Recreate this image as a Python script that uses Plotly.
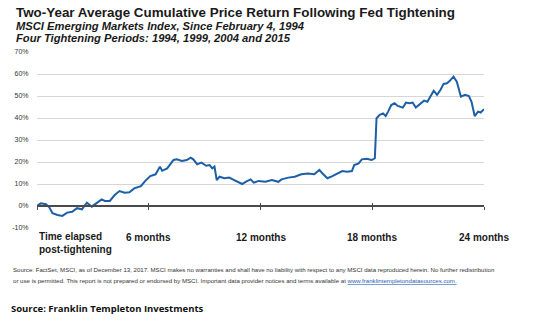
import plotly.graph_objects as go

# Months elapsed after the start of tightening
months = [0.00, 0.20, 0.48, 0.66, 0.83, 1.10, 1.36, 1.62, 1.89, 2.15, 2.41, 2.68, 2.94, 3.21,
          3.47, 3.64, 3.91, 4.17, 4.43, 4.70, 4.96, 5.22, 5.58, 5.79, 6.08, 6.37, 6.60, 6.72,
          6.99, 7.33, 7.51, 7.78, 8.04, 8.25, 8.39, 8.60, 8.83, 9.09, 9.27, 9.41, 9.53, 9.65,
          9.80, 10.06, 10.32, 10.59, 10.85, 11.02, 11.20, 11.47, 11.64, 11.90, 12.26, 12.61,
          12.96, 13.13, 13.49, 13.84, 14.19, 14.54, 14.89, 15.16, 15.33, 15.59, 15.86, 16.12,
          16.39, 16.65, 16.91, 17.03, 17.27, 17.44, 17.70, 17.97, 18.14, 18.23, 18.40, 18.58,
          18.72, 18.85, 19.02, 19.20, 19.37, 19.64, 19.81, 19.99, 20.17, 20.34, 20.60, 20.78,
          20.96, 21.13, 21.30, 21.48, 21.66, 21.83, 22.01, 22.18, 22.36, 22.54, 22.76, 22.98,
          23.19, 23.33, 23.50, 23.68, 23.82, 24.00]
# Average cumulative price return (%)
returns = [0.0, 1.2, 0.8, -0.6, -3.3, -4.1, -4.5, -3.0, -2.6, -1.0, -1.5, 1.5, -0.3, 1.5,
           3.0, 2.3, 2.3, 5.0, 6.8, 6.0, 6.2, 8.0, 9.0, 11.2, 13.6, 14.4, 17.9, 16.0,
           17.1, 20.9, 21.2, 20.5, 20.9, 22.0, 21.2, 19.0, 19.7, 18.3, 18.6, 17.1, 17.9, 11.8,
           13.3, 12.6, 12.9, 11.8, 10.6, 10.0, 11.0, 12.1, 10.6, 11.4, 11.0, 11.8,
           11.0, 12.1, 12.9, 13.3, 14.4, 14.8, 14.4, 16.4, 14.8, 12.6, 13.6, 14.8,
           15.9, 15.6, 15.9, 18.6, 19.4, 21.2, 21.5, 20.9, 21.7, 39.9, 41.4, 42.1,
           40.9, 42.9, 45.9, 46.7, 45.5, 44.7, 47.0, 46.7, 47.0, 44.8, 46.7, 47.9,
           47.4, 49.7, 52.4, 50.5, 52.7, 55.5, 55.8, 57.0, 58.8, 56.5, 49.7, 50.5,
           50.0, 47.4, 40.9, 42.9, 42.5, 44.0]

tick_months = [0, 6, 12, 18, 24]
tick_labels = ["Time elapsed<br>post-tightening", "6 months", "12 months", "18 months", "24 months"]
y_ticks = [-10, 0, 10, 20, 30, 40, 50, 60, 70]
y_labels = ["-10%", "0%", "10%", "20%", "30%", "40%", "50%", "60%", "70%"]

title = "Two-Year Average Cumulative Price Return Following Fed Tightening"
sub1 = "MSCI Emerging Markets Index, Since February 4, 1994"
sub2 = "Four Tightening Periods: 1994, 1999, 2004 and 2015"
foot1 = ("Source: FactSet, MSCI, as of December 13, 2017. MSCI makes no warranties and shall have no "
         "liability with respect to any MSCI data reproduced herein. No further redistribution")
foot2 = ("or use is permitted. This report is not prepared or endorsed by MSCI. Important data provider "
         "notices and terms available at ")
link = "www.franklintempletondatasources.com."
source = "Source: Franklin Templeton Investments"

W, H = 534, 323
ML, MR, MT, MB = 29, 50, 52, 95

fig = go.Figure()
fig.add_trace(go.Scatter(x=months, y=returns, mode="lines",
                         line=dict(color="#1d5fa6", width=2), hoverinfo="skip"))
# invisible trace on x2 to activate crossing ticks
fig.add_trace(go.Scatter(x=[0, 24], y=[0, 0], xaxis="x2", mode="lines",
                         line=dict(color="rgba(0,0,0,0)"), hoverinfo="skip"))

ypos = (0 - (-10)) / 80
fig.update_layout(
    width=W, height=H, margin=dict(l=ML, r=MR, t=MT, b=MB),
    paper_bgcolor="white", plot_bgcolor="white", showlegend=False,
    font=dict(family="Liberation Sans, Arial, sans-serif", color="#1a1a1a"),
    xaxis=dict(range=[0, 24], anchor="free", position=ypos, showline=True,
               linecolor="#4a4a4a", linewidth=1.5, ticks="outside", ticklen=3,
               tickwidth=1.3, tickcolor="#4a4a4a", tickvals=tick_months,
               showticklabels=False, showgrid=False, zeroline=False, fixedrange=True),
    xaxis2=dict(range=[0, 24], overlaying="x", anchor="free", position=ypos,
                ticks="inside", ticklen=3, tickwidth=1.3, tickcolor="#4a4a4a",
                tickvals=tick_months, showticklabels=False, showgrid=False,
                showline=False, zeroline=False),
    yaxis=dict(range=[-10, 70], tickvals=y_ticks, ticktext=y_labels,
               showgrid=True, gridcolor="#d6d6d6", gridwidth=1.3, zeroline=False,
               ticks="outside", ticklen=6, tickcolor="rgba(0,0,0,0)",
               tickfont=dict(size=7, color="#333333", family="Liberation Sans, Arial"),
               showline=False, fixedrange=True),
)

ph = H - MT - MB
def py(pix):
    return (H - MB - pix) / ph

for m, lab in zip(tick_months, tick_labels):
    if m == 0:
        fig.add_annotation(x=m, xref="x", y=py(243), yref="paper", text=f"<b>{lab}</b>",
                           showarrow=False, xanchor="left", yanchor="middle", align="left",
                           font=dict(size=10, color="#1a1a1a"))
    else:
        fig.add_annotation(x=m, xref="x", y=py(237.6), yref="paper", text=f"<b>{lab}</b>",
                           showarrow=False, xanchor="center", yanchor="middle",
                           font=dict(size=10, color="#1a1a1a"))

def ptext(x, y, text, size, family="Liberation Sans, Arial", color="#1a1a1a"):
    fig.add_annotation(x=(x - ML) / (W - ML - MR), xref="paper", y=py(y), yref="paper",
                       text=text, showarrow=False, xanchor="left", yanchor="middle",
                       align="left", font=dict(size=size, family=family, color=color))

ptext(6, 12, f"<b>{title}</b>", 13.4)
ptext(6, 26, f"<b><i>{sub1}</i></b>", 11.2)
ptext(6, 38, f"<b><i>{sub2}</i></b>", 11.2)
ptext(3, 269, foot1, 6.1, color="#333333")
ptext(3, 280, foot2 + f"<span style='color:#2a5db0'><u>{link}</u></span>", 6.1, color="#333333")
ptext(1, 308, f"<b>{source}</b>", 9.5, family="Open Sans, sans-serif", color="#111111")

fig.write_html("out.html")
